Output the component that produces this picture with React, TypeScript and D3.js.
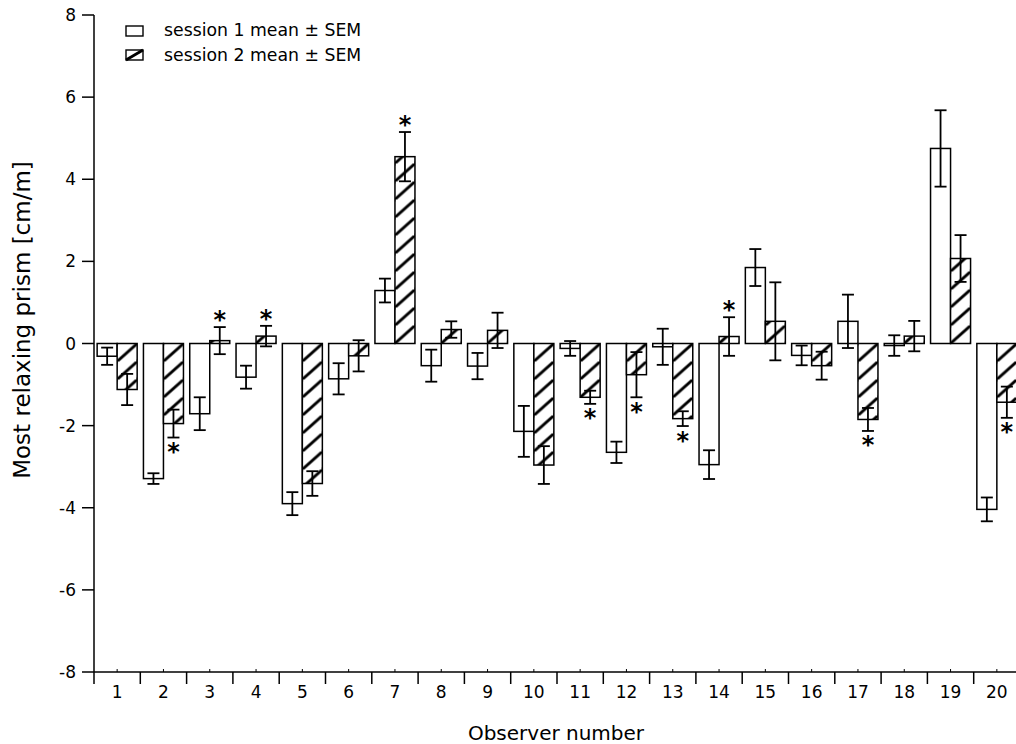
import React from 'react';
import * as d3 from 'd3';

const observers = ['1','2','3','4','5','6','7','8','9','10','11','12','13','14','15','16','17','18','19','20'];
const session1Mean = [-0.31, -3.29, -1.71, -0.82, -3.90, -0.86, 1.29, -0.54, -0.55, -2.14, -0.12, -2.65, -0.08, -2.95, 1.85, -0.29, 0.54, -0.05, 4.75, -4.04];
const session1Sem = [0.21, 0.13, 0.40, 0.28, 0.28, 0.38, 0.29, 0.39, 0.32, 0.62, 0.18, 0.26, 0.44, 0.35, 0.45, 0.24, 0.65, 0.25, 0.93, 0.29];
const session2Mean = [-1.12, -1.95, 0.07, 0.18, -3.41, -0.30, 4.55, 0.34, 0.32, -2.96, -1.31, -0.76, -1.83, 0.17, 0.54, -0.54, -1.85, 0.18, 2.07, -1.43];
const session2Sem = [0.38, 0.34, 0.33, 0.25, 0.30, 0.38, 0.60, 0.20, 0.43, 0.46, 0.16, 0.55, 0.18, 0.47, 0.95, 0.34, 0.28, 0.37, 0.57, 0.38];
const significant = [false, true, true, true, false, false, true, false, false, false, true, true, true, true, false, false, true, false, false, true];
const yTicks = [-8, -6, -4, -2, 0, 2, 4, 6, 8];
const seriesKeys = ['session1', 'session2'];
const legendLabels = ['session 1 mean ± SEM', 'session 2 mean ± SEM'];

const W = 1016, H = 744;
const FONT = '"DejaVu Sans", Verdana, sans-serif';
const HP = 18;

export default function App() {
  const x0 = d3.scaleBand<string>().domain(observers).range([94, 94 + 20 * 46.3]).padding(0);
  const x1 = d3.scaleBand<string>().domain(seriesKeys).range([0, x0.bandwidth()]).paddingInner(0).paddingOuter(0.157);
  const y = d3.scaleLinear().domain([-8, 8]).range([672, 15]);
  const y0 = y(0);
  const bw = x1.bandwidth();

  const errBar = (cx: number, m: number, s: number, key: string) => (
    <g key={key} stroke="#000" strokeWidth={1.8}>
      <line x1={cx} x2={cx} y1={y(m - s)} y2={y(m + s)} />
      <line x1={cx - 6} x2={cx + 6} y1={y(m - s)} y2={y(m - s)} />
      <line x1={cx - 6} x2={cx + 6} y1={y(m + s)} y2={y(m + s)} />
    </g>
  );

  return (
    <svg width={W} height={H} style={{ position: 'fixed', left: 0, top: 0, background: '#fff' }} fontFamily={FONT}>
      <defs>
        {observers.map((o, i) => (
          <pattern key={o} id={'hatch' + i} patternUnits="userSpaceOnUse" x={(x0(o) as number) + (x1('session2') as number)} y={y0} width={bw} height={HP}>
            <path d={`M${-bw},${HP} L0,0 M0,${HP} L${bw},0 M${bw},${HP} L${2 * bw},0`} stroke="#000" strokeWidth={2.8} />
          </pattern>
        ))}
      </defs>
      <rect x={0} y={0} width={W} height={H} fill="#fff" />

      {observers.map((o, i) => {
        const bx1 = (x0(o) as number) + (x1('session1') as number);
        const bx2 = (x0(o) as number) + (x1('session2') as number);
        const v1 = session1Mean[i], v2 = session2Mean[i];
        return (
          <g key={o}>
            <rect x={bx1} y={Math.min(y0, y(v1))} width={bw} height={Math.abs(y(v1) - y0)} fill="#fff" stroke="#000" strokeWidth={1.5} />
            <rect x={bx2} y={Math.min(y0, y(v2))} width={bw} height={Math.abs(y(v2) - y0)} fill="#fff" stroke="none" />
            <rect x={bx2} y={Math.min(y0, y(v2))} width={bw} height={Math.abs(y(v2) - y0)} fill={`url(#hatch${i})`} stroke="#000" strokeWidth={1.5} />
          </g>
        );
      })}

      {observers.map((o, i) => {
        const c1 = (x0(o) as number) + (x1('session1') as number) + bw / 2;
        const c2 = (x0(o) as number) + (x1('session2') as number) + bw / 2;
        return (
          <g key={'e' + o}>
            {errBar(c1, session1Mean[i], session1Sem[i], 'a')}
            {errBar(c2, session2Mean[i], session2Sem[i], 'b')}
          </g>
        );
      })}

      {observers.map((o, i) => {
        if (!significant[i]) return null;
        const c2 = (x0(o) as number) + (x1('session2') as number) + bw / 2;
        const m = session2Mean[i], s = session2Sem[i];
        const cy = m >= 0 ? y(m + s) - 12.5 : y(m - s) + 9;
        return (
          <text key={'s' + o} x={c2} y={cy + 13.5} textAnchor="middle" fontSize={24} fontWeight="bold" fill="#000">*</text>
        );
      })}

      <line x1={94} x2={94} y1={y(8)} y2={y(-8)} stroke="#000" strokeWidth={1.5} />
      {yTicks.map(t => (
        <g key={t}>
          <line x1={82} x2={94} y1={y(t)} y2={y(t)} stroke="#000" strokeWidth={1.5} />
          <text x={76} y={y(t) + 6} textAnchor="end" fontSize={17} fill="#000">{t}</text>
        </g>
      ))}

      <line x1={94} x2={W} y1={y(-8)} y2={y(-8)} stroke="#000" strokeWidth={1.5} />
      {observers.map(o => (
        <g key={'x' + o}>
          <line x1={x0(o) as number} x2={x0(o) as number} y1={y(-8)} y2={y(-8) + 12} stroke="#000" strokeWidth={1.5} />
          <line x1={(x0(o) as number) + x0.bandwidth() / 2} x2={(x0(o) as number) + x0.bandwidth() / 2} y1={y(-8)} y2={y(-8) - 3} stroke="#000" strokeWidth={1} />
          <text x={(x0(o) as number) + x0.bandwidth() / 2} y={698} textAnchor="middle" fontSize={17} fill="#000">{o}</text>
        </g>
      ))}

      <text x={556} y={740} textAnchor="middle" fontSize={20} fill="#000">Observer number</text>
      <text transform="translate(30,320) rotate(-90)" textAnchor="middle" fontSize={23} fill="#000">Most relaxing prism [cm/m]</text>

      <g>
        <rect x={126} y={26} width={17} height={10} fill="#fff" stroke="#000" strokeWidth={1.4} />
        <text x={164} y={36} fontSize={17.3} fill="#000">{legendLabels[0]}</text>
        <rect x={126} y={50} width={17} height={10} fill="#fff" stroke="#000" strokeWidth={1.4} />
        <path d="M126,60 L143,50" stroke="#000" strokeWidth={2.8} />
        <text x={164} y={61} fontSize={17.3} fill="#000">{legendLabels[1]}</text>
      </g>
    </svg>
  );
}
